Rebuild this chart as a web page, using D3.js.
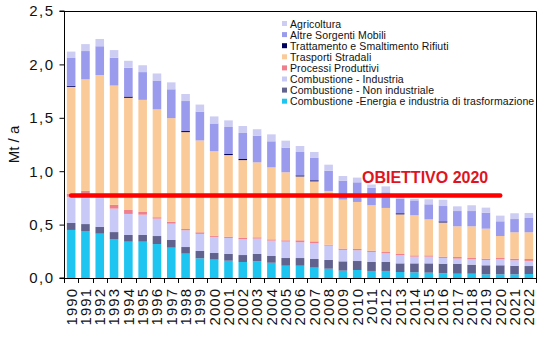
<!DOCTYPE html>
<html>
<head>
<meta charset="utf-8">
<script src="https://cdn.jsdelivr.net/npm/d3@7"></script>
<style>
  body { margin: 0; background: #fff; }
  svg { font-family: "Liberation Sans", Arial, sans-serif; }
</style>
</head>
<body>
<svg id="chart"></svg>
<script>
// anni
const years = ["1990","1991","1992","1993","1994","1995","1996","1997","1998","1999",
  "2000","2001","2002","2003","2004","2005","2006","2007","2008","2009","2010",
  "2011","2012","2013","2014","2015","2016","2017","2018","2019","2020","2021","2022"];

// Mt / a per settore (dal basso verso l'alto)
const energia = [0.45,0.44,0.415,0.365,0.34,0.34,0.318,0.284,0.228,0.184,0.172,0.162,0.15,0.156,0.143,0.115,0.115,0.097,0.087,0.069,0.075,0.066,0.066,0.056,0.053,0.05,0.044,0.04,0.04,0.034,0.034,0.034,0.037];
const nonIndustriale = [0.065,0.065,0.063,0.065,0.063,0.063,0.075,0.072,0.062,0.069,0.062,0.063,0.065,0.069,0.063,0.072,0.072,0.081,0.082,0.087,0.084,0.084,0.084,0.081,0.084,0.087,0.09,0.094,0.085,0.085,0.085,0.081,0.075];
const industria = [0.245,0.275,0.277,0.22,0.197,0.19,0.163,0.153,0.157,0.16,0.151,0.15,0.148,0.144,0.144,0.154,0.148,0.147,0.134,0.107,0.101,0.094,0.081,0.076,0.063,0.063,0.054,0.048,0.05,0.05,0.056,0.051,0.048];
const processi = [0.03,0.035,0.025,0.035,0.037,0.025,0.013,0.018,0.012,0.015,0.012,0.012,0.012,0.012,0.012,0.012,0.018,0.018,0.009,0.012,0.012,0.012,0.012,0.012,0.012,0.012,0.012,0.015,0.012,0.012,0.012,0.015,0.018];
const trasporti = [1.0,1.045,1.12,1.117,1.05,1.05,1.01,0.97,0.907,0.86,0.79,0.764,0.729,0.702,0.674,0.637,0.598,0.562,0.503,0.459,0.44,0.425,0.413,0.371,0.375,0.337,0.32,0.287,0.297,0.281,0.206,0.247,0.25];
const rifiuti = [0.01,0,0,0,0.012,0,0,0,0.01,0,0,0.01,0.01,0,0,0,0.01,0.01,0,0,0,0,0,0.01,0,0,0.01,0,0,0,0,0,0];
const altreMobili = [0.26,0.265,0.27,0.26,0.27,0.26,0.27,0.27,0.281,0.27,0.26,0.253,0.244,0.25,0.244,0.231,0.219,0.209,0.19,0.178,0.184,0.165,0.146,0.139,0.14,0.141,0.144,0.143,0.143,0.15,0.138,0.124,0.134];
const agricoltura = [0.06,0.065,0.068,0.072,0.065,0.064,0.066,0.065,0.066,0.066,0.066,0.062,0.065,0.06,0.065,0.065,0.056,0.056,0.056,0.043,0.044,0.03,0.056,0.04,0.015,0.047,0.059,0.044,0.054,0.047,0.053,0.054,0.047];

const seriesNames = ["Combustione -Energia e industria di trasformazione", "Combustione - Non industriale",
  "Combustione - Industria", "Processi Produttivi", "Trasporti Stradali",
  "Trattamento e Smaltimento Rifiuti", "Altre Sorgenti Mobili", "Agricoltura"];
const seriesValues = [energia, nonIndustriale, industria, processi, trasporti, rifiuti, altreMobili, agricoltura];
const seriesColors = ["#1ec5f1", "#62628f", "#c9c9f7", "#ef7f8c", "#fbca99", "#00005e", "#9b9bee", "#cdcdf4"];

const yTicks = [0, 0.5, 1, 1.5, 2, 2.5];
const objective = [{ year: "1990", value: 0.772 }, { year: "2020", value: 0.772 }];

const width = 559, height = 354;
const plot = { left: 64, right: 536, top: 11, bottom: 278 };

const svg = d3.select("#chart")
  .attr("width", width)
  .attr("height", height);

const x = d3.scaleBand()
  .domain(years)
  .range([plot.left, plot.right])
  .paddingInner(0.4)
  .paddingOuter(0.2);

const y = d3.scaleLinear()
  .domain([0, 2.5])
  .range([plot.bottom, plot.top]);

// build rows for the stack
const rows = years.map((yr, i) => {
  const row = { year: yr };
  seriesNames.forEach((name, s) => row[name] = seriesValues[s][i]);
  return row;
});

const stacked = d3.stack().keys(seriesNames)(rows);

svg.append("g")
  .selectAll("g")
  .data(stacked)
  .join("g")
    .attr("fill", (d, i) => seriesColors[i])
  .selectAll("rect")
  .data(d => d)
  .join("rect")
    .attr("x", d => x(d.data.year))
    .attr("width", x.bandwidth())
    .attr("y", d => y(d[1]))
    .attr("height", d => y(d[0]) - y(d[1]));

// plot frame (top + right)
svg.append("path")
  .attr("d", `M${plot.left},${plot.top + 0.5}H${plot.right + 0.5}V${plot.bottom}`)
  .attr("fill", "none")
  .attr("stroke", "#000");

// y axis
const yAxis = svg.append("g")
  .attr("transform", `translate(${plot.left + 0.5},0)`)
  .call(d3.axisLeft(y)
    .tickValues(yTicks)
    .tickSize(5)
    .tickPadding(5)
    .tickFormat(d => d3.format(".1f")(d).replace(".", ",")));
yAxis.select(".domain").attr("d", `M-5,${y(2.5)}H0V${y(0)}H-5`);
yAxis.selectAll("text")
  .attr("font-size", 15)
  .attr("letter-spacing", 1.5)
  .attr("fill", "#111")
  .attr("font-family", null);

svg.append("text")
  .attr("transform", `translate(19,${(plot.top + plot.bottom) / 2}) rotate(-90)`)
  .attr("text-anchor", "middle")
  .attr("font-size", 15)
  .attr("fill", "#111")
  .text("Mt / a");

// x axis: line, boundary ticks, rotated year labels
const xAxis = svg.append("g");
xAxis.append("line")
  .attr("x1", plot.left).attr("x2", plot.right + 0.5)
  .attr("y1", plot.bottom + 0.5).attr("y2", plot.bottom + 0.5)
  .attr("stroke", "#000");
xAxis.selectAll(".tick")
  .data(d3.range(years.length + 1))
  .join("line")
    .attr("x1", i => Math.round(x.range()[0] + i * x.step()) + 0.5)
    .attr("x2", i => Math.round(x.range()[0] + i * x.step()) + 0.5)
    .attr("y1", plot.bottom)
    .attr("y2", plot.bottom + 5)
    .attr("stroke", "#000");
xAxis.selectAll("text")
  .data(years)
  .join("text")
    .attr("transform", d => `translate(${x(d) + x.bandwidth() / 2},${plot.bottom + 10}) rotate(-90)`)
    .attr("text-anchor", "end")
    .attr("dy", "0.36em")
    .attr("font-size", 15)
    .attr("letter-spacing", 1)
    .attr("fill", "#111")
    .text(d => d);

// target line
svg.append("path")
  .datum(objective)
  .attr("d", d3.line()
    .x(d => x(d.year) + x.bandwidth() / 2)
    .y(d => y(d.value)))
  .attr("stroke", "#ff0000")
  .attr("stroke-width", 4.5)
  .attr("stroke-linecap", "round")
  .attr("fill", "none");

svg.append("text")
  .attr("x", x("2020") + x.bandwidth() / 2 - 12)
  .attr("y", y(objective[1].value) - 13)
  .attr("text-anchor", "end")
  .attr("font-size", 16)
  .attr("font-weight", "bold")
  .attr("fill", "#e0141f")
  .text("OBIETTIVO 2020");

// legend, top entry = last series
const legend = svg.append("g")
  .attr("transform", "translate(282,24)");
const legendItems = legend.selectAll("g")
  .data(seriesNames.map((n, i) => ({ name: n, color: seriesColors[i] })).reverse())
  .join("g")
    .attr("transform", (d, i) => `translate(0,${i * 11.1})`);
legendItems.append("rect")
  .attr("x", 0).attr("y", -3)
  .attr("width", 5).attr("height", 5)
  .attr("fill", d => d.color);
legendItems.append("text")
  .attr("x", 8)
  .attr("dy", "0.35em")
  .attr("font-size", 10.5)
  .attr("letter-spacing", 0.1)
  .attr("fill", "#111")
  .text(d => d.name);
</script>
</body>
</html>
